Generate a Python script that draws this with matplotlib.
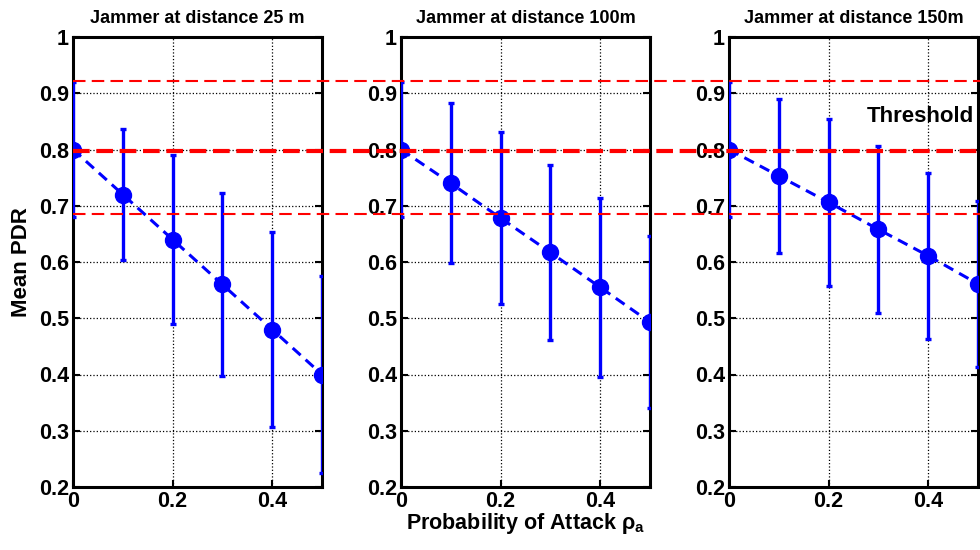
import matplotlib
matplotlib.use("Agg")
import matplotlib.pyplot as plt
import matplotlib.transforms as mtransforms
from matplotlib.lines import Line2D

plt.rcParams['font.family'] = ['Liberation Sans', 'DejaVu Sans']
plt.rcParams['font.weight'] = 'bold'
plt.rcParams['mathtext.fontset'] = 'custom'
plt.rcParams['mathtext.rm'] = 'Liberation Sans:bold'
plt.rcParams['mathtext.bf'] = 'Liberation Sans:bold'
plt.rcParams['mathtext.it'] = 'Liberation Sans:bold'

# attack probabilities
p_attack = [0.0, 0.1, 0.2, 0.3, 0.4, 0.5]

# mean PDR and error (half length of bar) for each jammer distance
titles = ["Jammer at distance 25 m", "Jammer at distance 100m", "Jammer at distance 150m"]
pdr_25 = [0.80, 0.72, 0.64, 0.56, 0.48, 0.40]
err_25 = [0.12, 0.117, 0.15, 0.163, 0.173, 0.175]
pdr_100 = [0.80, 0.74, 0.678, 0.617, 0.555, 0.493]
err_100 = [0.12, 0.142, 0.153, 0.155, 0.159, 0.153]
pdr_150 = [0.80, 0.753, 0.706, 0.658, 0.611, 0.561]
err_150 = [0.12, 0.137, 0.148, 0.148, 0.147, 0.148]

# threshold band (upper, threshold, lower)
threshold_levels = [0.922, 0.798, 0.685]
threshold_widths = [1.5, 3.0, 1.5]

means = [pdr_25, pdr_100, pdr_150]
errs = [err_25, err_100, err_150]

fig = plt.figure(figsize=(9.8, 5.5), dpi=100)
lefts = [73 / 980, 401 / 980, 729 / 980]
axes = []
for i in range(3):
    ax = fig.add_axes([lefts[i], 63 / 550, 249 / 980, 450 / 550])
    ax.errorbar(p_attack, means[i], yerr=errs[i], color=(0, 0, 1), lw=2.2,
                dashes=(3.5, 2.2), marker='o', markersize=11.5, elinewidth=2.4,
                capsize=2, capthick=2.4, zorder=3)
    ax.set_xlim(0, 0.5)
    ax.set_ylim(0.2, 1.0)
    ax.set_xticks([0, 0.2, 0.4])
    ax.set_xticklabels(["0", "0.2", "0.4"])
    ax.set_yticks([0.2, 0.3, 0.4, 0.5, 0.6, 0.7, 0.8, 0.9, 1.0])
    ax.set_yticklabels(["0.2", "0.3", "0.4", "0.5", "0.6", "0.7", "0.8", "0.9", "1"])
    ax.grid(True, color='black', linestyle=':', linewidth=0.9)
    ax.tick_params(direction='in', length=5, width=1.5, labelsize=15.5,
                   right=True, top=False, pad=3)
    for s in ax.spines.values():
        s.set_linewidth(2.2)
    ax.set_title(titles[i], fontsize=13, fontweight='bold', pad=10)
    axes.append(ax)

axes[0].set_ylabel("Mean PDR", fontsize=16, fontweight='bold', labelpad=5)
axes[1].set_xlabel(r"Probability of Attack $\mathrm{\rho}_{\mathrm{a}}$",
                   fontsize=15.5, fontweight='bold', labelpad=-1)
axes[2].text(0.277, 0.858, "Threshold", fontsize=16, fontweight='bold',
             va='center', ha='left', clip_on=False)

# red dashed threshold lines run across the whole figure
trans = mtransforms.blended_transform_factory(fig.transFigure, axes[0].transData)
x0 = axes[0].get_position().x0
for lvl, w in zip(threshold_levels, threshold_widths):
    ln = Line2D([x0, 1.0], [lvl, lvl], transform=trans, color='red', lw=w,
                dashes=(6, 3) if w < 2 else (4, 1.6), zorder=5)
    fig.add_artist(ln)

fig.savefig("out.png", dpi=100)
